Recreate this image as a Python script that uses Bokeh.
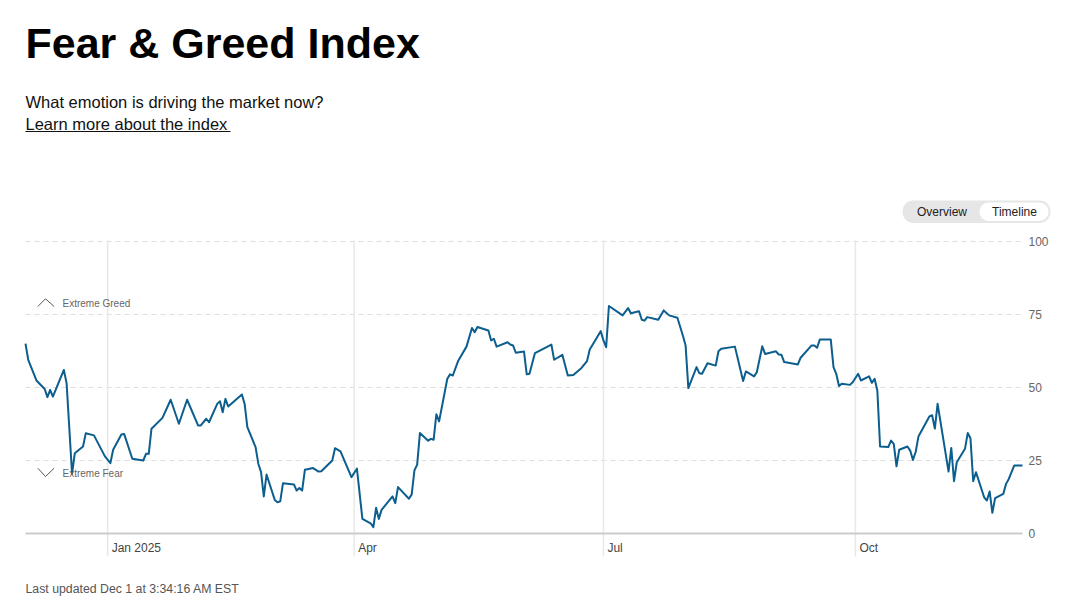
import pandas as pd
from bokeh.plotting import figure
from bokeh.models import Range1d, Label, Arrow, BoxAnnotation, ColumnDataSource
from bokeh.core.properties import value
from bokeh.embed import file_html
from bokeh.resources import INLINE

# ---------------- data ----------------
dates = [
    "2024-12-02", "2024-12-03", "2024-12-06", "2024-12-09", "2024-12-10", "2024-12-11", "2024-12-12",
    "2024-12-16", "2024-12-17", "2024-12-19", "2024-12-20", "2024-12-23", "2024-12-24", "2024-12-27", "2024-12-31",
    "2025-01-02", "2025-01-03", "2025-01-06", "2025-01-07", "2025-01-10", "2025-01-14", "2025-01-15",
    "2025-01-16", "2025-01-17", "2025-01-21", "2025-01-24", "2025-01-27", "2025-01-30",
    "2025-02-03", "2025-02-04", "2025-02-06", "2025-02-07", "2025-02-10", "2025-02-11", "2025-02-12", "2025-02-13",
    "2025-02-14", "2025-02-19", "2025-02-20", "2025-02-21", "2025-02-24", "2025-02-25", "2025-02-26", "2025-02-27", "2025-02-28",
    "2025-03-03", "2025-03-04", "2025-03-05", "2025-03-06", "2025-03-10", "2025-03-11", "2025-03-12", "2025-03-13",
    "2025-03-14", "2025-03-17", "2025-03-19", "2025-03-20", "2025-03-24", "2025-03-25", "2025-03-27", "2025-03-31",
    "2025-04-02", "2025-04-04", "2025-04-07", "2025-04-08", "2025-04-09", "2025-04-10", "2025-04-11", "2025-04-15",
    "2025-04-16", "2025-04-17", "2025-04-21", "2025-04-22", "2025-04-23", "2025-04-24", "2025-04-25", "2025-04-28",
    "2025-04-29", "2025-04-30",
    "2025-05-01", "2025-05-02", "2025-05-05", "2025-05-06", "2025-05-07", "2025-05-09", "2025-05-12", "2025-05-14",
    "2025-05-15", "2025-05-16", "2025-05-20", "2025-05-21", "2025-05-22", "2025-05-23", "2025-05-27", "2025-05-28",
    "2025-05-29", "2025-05-30",
    "2025-06-02", "2025-06-03", "2025-06-04", "2025-06-06", "2025-06-12", "2025-06-13", "2025-06-16", "2025-06-18",
    "2025-06-20", "2025-06-23", "2025-06-25", "2025-06-26", "2025-06-30",
    "2025-07-01", "2025-07-02", "2025-07-03", "2025-07-08", "2025-07-10", "2025-07-11", "2025-07-14", "2025-07-15",
    "2025-07-16", "2025-07-17", "2025-07-21", "2025-07-23", "2025-07-25", "2025-07-28", "2025-07-30", "2025-07-31",
    "2025-08-01", "2025-08-04", "2025-08-05", "2025-08-06", "2025-08-08", "2025-08-11", "2025-08-12", "2025-08-13",
    "2025-08-18", "2025-08-21", "2025-08-22", "2025-08-25", "2025-08-26", "2025-08-28", "2025-08-29",
    "2025-09-02", "2025-09-03", "2025-09-04", "2025-09-05", "2025-09-10", "2025-09-11", "2025-09-15", "2025-09-16",
    "2025-09-17", "2025-09-18", "2025-09-22", "2025-09-23", "2025-09-24", "2025-09-25", "2025-09-26", "2025-09-29", "2025-09-30",
    "2025-10-02", "2025-10-03", "2025-10-06", "2025-10-07", "2025-10-08", "2025-10-09", "2025-10-10", "2025-10-13",
    "2025-10-14", "2025-10-15", "2025-10-16", "2025-10-17", "2025-10-20", "2025-10-21", "2025-10-22", "2025-10-23",
    "2025-10-24", "2025-10-28", "2025-10-29", "2025-10-30", "2025-10-31",
    "2025-11-04", "2025-11-05", "2025-11-06", "2025-11-07", "2025-11-10", "2025-11-11", "2025-11-12", "2025-11-13",
    "2025-11-14", "2025-11-17", "2025-11-18", "2025-11-19", "2025-11-20", "2025-11-21", "2025-11-24", "2025-11-25",
    "2025-11-26", "2025-11-28", "2025-12-01",
]

index_values = [
    65, 59.5, 52.4, 49.5, 46.7, 49.2, 46.9, 56, 51.5, 20.4, 27.5, 29.8, 34.3, 33.6, 26.4,
    24.1, 28.7, 33.9, 34.1, 25.6, 25, 27.3, 27.3, 35.9, 39.6, 45.8, 37.6, 45.8,
    37, 37, 39.3, 38.1, 44.4, 45.3, 41.5, 46.1, 43.5, 47.6, 44.4, 36.4, 29.6, 23.9, 21, 12.7, 20.2,
    11.5, 10.7, 11, 17.2, 16.8, 14.7, 15.6, 14.7, 21.8, 22.4, 21.2, 21.3, 25, 29.2, 28.1, 19.3,
    22.2, 5, 3.5, 2.2, 8.8, 5, 8.1, 12.7, 10.4, 15.9, 11.9, 13.4, 21.6, 23.6, 34.4, 31.8, 32.4, 32.1,
    40.8, 38.4, 53, 54.5, 54.1, 59.2, 64, 70.4, 68.9, 70.7, 69.5, 66.1, 66.7, 64, 65.5, 64.7, 64.4, 61.9,
    62.3, 54.5, 54.7, 61.8, 64.7, 59.5, 61.2, 54.1, 54.3, 56.7, 59, 63, 69.3,
    66.1, 63.8, 77.9, 74.7, 77.2, 75.4, 76.1, 73.2, 72.9, 74.1, 73.2, 76.4, 74.7, 73.9, 67.8, 64.4,
    49.8, 57, 54.9, 54.7, 58.3, 57.5, 62.4, 63.3, 64, 52.2, 55.5, 53.8, 55.2, 64.1, 61.5,
    62.4, 61.3, 61.2, 58.7, 57.9, 60.2, 64.4, 64.4, 63.6, 66.4, 66.4, 57, 54.7, 50.5, 51.3, 50.9, 51.8,
    54.7, 52.4, 53.8, 51.6, 53, 49, 29.8, 29.6, 31.8, 30.7, 23, 28.7, 29.8, 28.4, 25.2, 27.9, 33.2, 40.1, 40.5, 35.9, 44.4,
    21.2, 29.3, 17.9, 24.4, 29, 34.4, 32.6, 17.9, 21, 12.4, 11.3, 14.4, 7.1, 12.1, 13.6, 17, 18.7, 23.3, 23.3,
]

x_tick_dates = ["2025-01-01", "2025-04-01", "2025-07-01", "2025-10-01"]
x_tick_labels = ["Jan 2025", "Apr", "Jul", "Oct"]
y_ticks = [0, 25, 50, 75, 100]
y_tick_labels = ["0", "25", "50", "75", "100"]
x_start, x_end = "2024-12-02", "2025-12-01"

assert len(dates) == len(index_values)

# ---------------- layout constants (page pixels) ----------------
FONT = "Liberation Sans"
W, H = 1070, 604
PLOT_L, PLOT_R = 25, 1022        # horizontal extent of the chart area
Y0_PX, PX_PER_UNIT = 533, 2.92   # row of value 0, pixels per index point
GRID_TOP, GRID_BOTTOM = 100.3, -7.9  # vertical extent of the quarter lines

# map the whole canvas onto data space so every mark uses the figure's scales
t0, t1 = pd.Timestamp(x_start), pd.Timestamp(x_end)
ms_per_px = (t1 - t0) / (PLOT_R - PLOT_L)
x_lo = t0 - ms_per_px * PLOT_L
x_hi = t1 + ms_per_px * (W - PLOT_R)
y_lo = -(H - Y0_PX) / PX_PER_UNIT
y_hi = Y0_PX / PX_PER_UNIT

p = figure(width=W, height=H, output_backend="svg", toolbar_location=None,
           x_axis_type="datetime", x_axis_location=None, y_axis_location=None,
           x_range=Range1d(x_lo, x_hi), y_range=Range1d(y_lo, y_hi), min_border=0)
p.outline_line_color = None
p.grid.visible = False
p.background_fill_color = "white"
p.border_fill_color = "white"

x = pd.to_datetime(dates)
tick_x = pd.to_datetime(x_tick_dates)

# horizontal dashed grid lines
hg = [t for t in y_ticks if t > 0]
p.segment(x0=t0, x1=t1, y0=hg, y1=hg, line_color="#dedede", line_width=1, line_dash="5 4")

# vertical quarter lines
p.segment(x0=tick_x, x1=tick_x, y0=GRID_BOTTOM, y1=GRID_TOP, line_color="#e8e8e8", line_width=1.5)

# baseline
p.segment(x0=t0, x1=t1, y0=0, y1=0, line_color="#cccccc", line_width=2)

# y tick labels (right side)
p.text(x=t1, y=y_ticks, text=y_tick_labels, x_offset=6, text_align="left", text_baseline="middle",
       text_font=value(FONT), text_font_size="12px", text_color="#666666")

# x tick labels
p.text(x=tick_x, y=-5.1, text=x_tick_labels, x_offset=4, text_align="left", text_baseline="middle",
       text_font=value(FONT), text_font_size="12px", text_color="#444444")

# the index line
p.line(x, index_values, line_color="#0b5e8e", line_width=2, line_join="round")


def canvas_box(l, r, t, b, color, radius=0):
    p.add_layout(BoxAnnotation(left=l, right=r, top=t, bottom=b,
                               left_units="canvas", right_units="canvas",
                               top_units="canvas", bottom_units="canvas",
                               fill_color=color, fill_alpha=1, line_color=None,
                               border_radius=radius))


def canvas_label(x0, y0, text, size, color, bold=False, align="left"):
    p.add_layout(Label(x=x0, y=y0, x_units="canvas", y_units="canvas", text=text,
                       text_font=FONT, text_font_style="bold" if bold else "normal",
                       text_font_size=size, text_align=align, text_baseline="middle",
                       text_color=color))


# header
canvas_label(25, 42.5, "Fear & Greed Index", "43px", "#000000", bold=True)
canvas_label(25, 101.9, "What emotion is driving the market now?", "16.5px", "#111111")
canvas_label(25, 123.6, "Learn more about the index", "16.5px", "#111111")
canvas_box(25, 230, 130.4, 131.6, "#111111")

# toggle pill
canvas_box(902, 1050, 200, 222.5, "#e6e6e6", 11)
canvas_box(979, 1048, 202, 220.5, "#ffffff", 9)
canvas_label(941.5, 211.5, "Overview", "12px", "#222222", align="center")
canvas_label(1014, 211.5, "Timeline", "12px", "#222222", align="center")

# zone markers
for (ax, ay, bx, by, cx, cy, ty, txt) in [
    (37.3, 306, 45, 298.3, 53.7, 306, 302.5, "Extreme Greed"),
    (37.3, 467.7, 45, 476, 53.7, 467.7, 473.3, "Extreme Fear"),
]:
    p.add_layout(Arrow(x_start=ax, y_start=ay, x_end=bx, y_end=by, start_units="canvas", end_units="canvas",
                       end=None, line_color="#555555", line_width=1))
    p.add_layout(Arrow(x_start=bx, y_start=by, x_end=cx, y_end=cy, start_units="canvas", end_units="canvas",
                       end=None, line_color="#555555", line_width=1))
    canvas_label(62, ty, txt, "10px", "#666666")

# footer
canvas_label(25, 588, "Last updated Dec 1 at 3:34:16 AM EST", "12.3px", "#555555")

open("out.html", "w").write(file_html(p, INLINE))
